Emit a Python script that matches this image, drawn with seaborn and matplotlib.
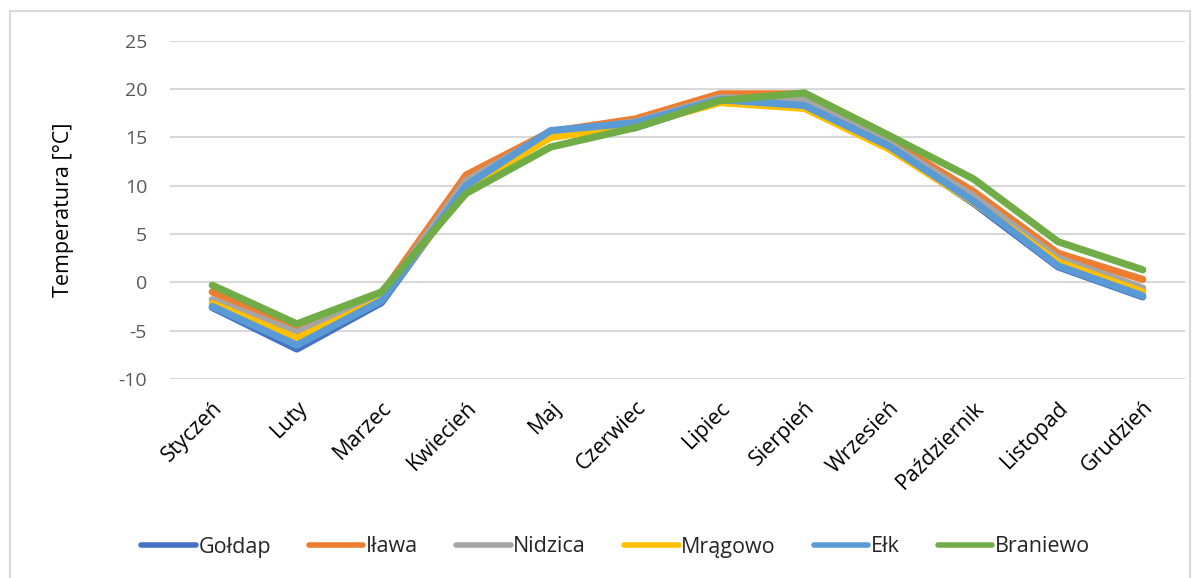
import matplotlib
matplotlib.use("Agg")
import matplotlib.pyplot as plt
import matplotlib.transforms as mtransforms
import seaborn as sns
import pandas as pd
from matplotlib.patches import Rectangle

# monthly mean temperatures
months = ["Styczeń", "Luty", "Marzec", "Kwiecień", "Maj", "Czerwiec",
          "Lipiec", "Sierpień", "Wrzesień", "Październik", "Listopad", "Grudzień"]
goldap = [-2.6, -6.9, -2.1, 9.9, 15.6, 16.0, 18.8, 18.3, 14.0, 8.2, 1.6, -1.5]
ilawa = [-1.0, -4.7, -1.2, 11.1, 15.6, 16.9, 19.5, 19.5, 14.7, 9.4, 3.0, 0.3]
nidzica = [-1.8, -5.2, -1.5, 10.5, 15.5, 16.6, 19.1, 18.9, 14.4, 8.9, 2.5, -0.6]
mragowo = [-2.2, -5.8, -1.8, 9.7, 15.0, 16.2, 18.6, 18.0, 13.8, 8.3, 2.1, -1.0]
elk = [-2.5, -6.5, -1.9, 10.0, 15.7, 16.5, 18.9, 18.3, 14.1, 8.4, 1.7, -1.4]
braniewo = [-0.3, -4.3, -1.0, 9.2, 14.0, 16.0, 18.8, 19.6, 15.2, 10.7, 4.2, 1.3]

stations = ["Gołdap", "Iława", "Nidzica", "Mrągowo", "Ełk", "Braniewo"]
colors = ["#4472C4", "#ED7D31", "#A5A5A5", "#FFC000", "#5B9BD5", "#70AD47"]
yticks = [-10, -5, 0, 5, 10, 15, 20, 25]

series = [goldap, ilawa, nidzica, mragowo, elk, braniewo]
rows = []
for name, vals in zip(stations, series):
    for m, v in zip(months, vals):
        rows.append({"Miesiąc": m, "Stacja": name, "Temp": v})
df = pd.DataFrame(rows)

sns.set_theme(style="white")
plt.rcParams["font.family"] = ["Open Sans", "DejaVu Sans"]

fig = plt.figure(figsize=(12.01, 5.78), dpi=100)
ax = fig.add_axes([170 / 1201, 1 - 379 / 578, 1015 / 1201, 338.3 / 578])

sns.lineplot(data=df, x="Miesiąc", y="Temp", hue="Stacja", hue_order=stations,
             palette=colors, sort=False, linewidth=5.2, ax=ax,
             solid_capstyle="round", solid_joinstyle="round")

ax.set_xlim(-0.5, len(months) - 0.5)
ax.set_ylim(-10, 25)
ax.set_yticks(yticks)
ax.set_yticklabels([str(t) for t in yticks], fontsize=14, color="#595959")
ax.set_xticks(range(len(months)))
ax.set_xticklabels(months, rotation=45, ha="right", va="top",
                   rotation_mode="anchor", fontsize=15.5, color="#000000")
# nudge the rotated month names a little to the right, as in the original
shift = mtransforms.ScaledTranslation(8 / 100, 0, fig.dpi_scale_trans)
for lbl in ax.get_xticklabels():
    lbl.set_transform(lbl.get_transform() + shift)
ax.tick_params(axis="y", length=0, pad=16.5)
ax.tick_params(axis="x", length=0, pad=13)
ax.grid(axis="y", color="#D9D9D9", linewidth=1.5)
ax.set_axisbelow(True)
for s in ax.spines.values():
    s.set_visible(False)
ax.set_xlabel("")
ax.set_ylabel("Temperatura [°C]", fontsize=15.5, color="#000000", labelpad=32)

handles, labels = ax.get_legend_handles_labels()
ax.get_legend().remove()
leg = fig.legend(handles, labels, loc="center",
                 bbox_to_anchor=(0.5 + 15 / 1201, 1 - 547 / 578),
                 ncol=6, frameon=False, fontsize=15.5, handlelength=2.55,
                 handletextpad=0.12, columnspacing=1.75)
for h in leg.get_lines():
    h.set_linewidth(4)
    h.set_solid_capstyle("round")

# light chart-area border like the spreadsheet frame
fig.patches.append(Rectangle((10 / 1201, -0.01), 1180 / 1201, 1.01 - 11 / 578,
                             transform=fig.transFigure, fill=False,
                             edgecolor="#D9D9D9", linewidth=1.5))

fig.savefig("out.png", dpi=100)
